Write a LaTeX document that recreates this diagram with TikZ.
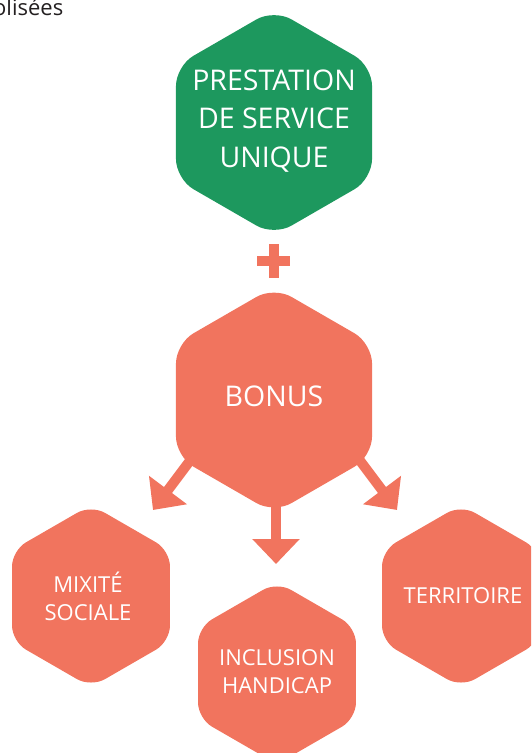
\documentclass[tikz,border=0pt]{standalone}
\usepackage{fontspec}
\setmainfont{Open Sans}
\usetikzlibrary{shapes.geometric,arrows.meta}
\definecolor{psugreen}{RGB}{29,152,94}
\definecolor{salmon}{RGB}{241,116,94}
\definecolor{toptext}{RGB}{35,31,32}
\begin{document}
\begin{tikzpicture}[x=1pt,y=-1pt,
  hex/.style={regular polygon, regular polygon sides=6, shape border rotate=30, inner sep=0pt, outer sep=0pt, draw=none},
  bighex/.style={hex, minimum size=226.4pt, rounded corners=20pt},
  smallhex/.style={hex, minimum size=182.4pt, rounded corners=16pt},
  bigtext/.style={text=white, align=center, inner sep=0pt, font=\fontsize{28.5}{38.5}\selectfont},
  smalltext/.style={text=white, align=center, inner sep=0pt, font=\fontsize{22}{28}\selectfont},
  arr/.style={draw=salmon, line width=10pt, -{Triangle[width=46pt,length=25pt]}}
]
\useasboundingbox (0,0) rectangle (531,753);
\clip (0,0) rectangle (531,753);

% cut-off caption at top left
\node[anchor=base west, text=toptext, inner sep=0pt, font=\fontsize{22}{26}\selectfont] (caption) at (-7,15) {olisées};

% arrow ends
\coordinate (startL) at (225,414);
\coordinate (tipL) at (153,510);
\coordinate (startR) at (325,414);
\coordinate (tipR) at (397,510);
\coordinate (startS) at (276,420);
\coordinate (tipS) at (276,564);

\draw[arr] (startL) -- (tipL);
\draw[arr] (startR) -- (tipR);
\draw[arr] (startS) -- (tipS);

% hexagons
\node[bighex, fill=psugreen] (psu) at (274,122.5) {};
\node[bigtext] (psutext) at (274,121) {PRESTATION\\DE SERVICE\\UNIQUE};

\fill[salmon] (257,256) rectangle (290,266);
\fill[salmon] (269,244) rectangle (279,278);

\node[bighex, fill=salmon] (bonus) at (274,400) {};
\node[bigtext] (bonustext) at (274,396.5) {BONUS};

\node[smallhex, fill=salmon] (mixite) at (91,596) {};
\node[smalltext] (mixitetext) at (88,596) {MIXITÉ\\SOCIALE};

\node[smallhex, fill=salmon] (inclusion) at (277,673) {};
\node[smalltext] (inclusiontext) at (277,671.5) {INCLUSION\\HANDICAP};

\node[smallhex, fill=salmon] (territoire) at (461,596) {};
\node[smalltext] (territoiretext) at (463,595.5) {TERRITOIRE};
\end{tikzpicture}
\end{document}
